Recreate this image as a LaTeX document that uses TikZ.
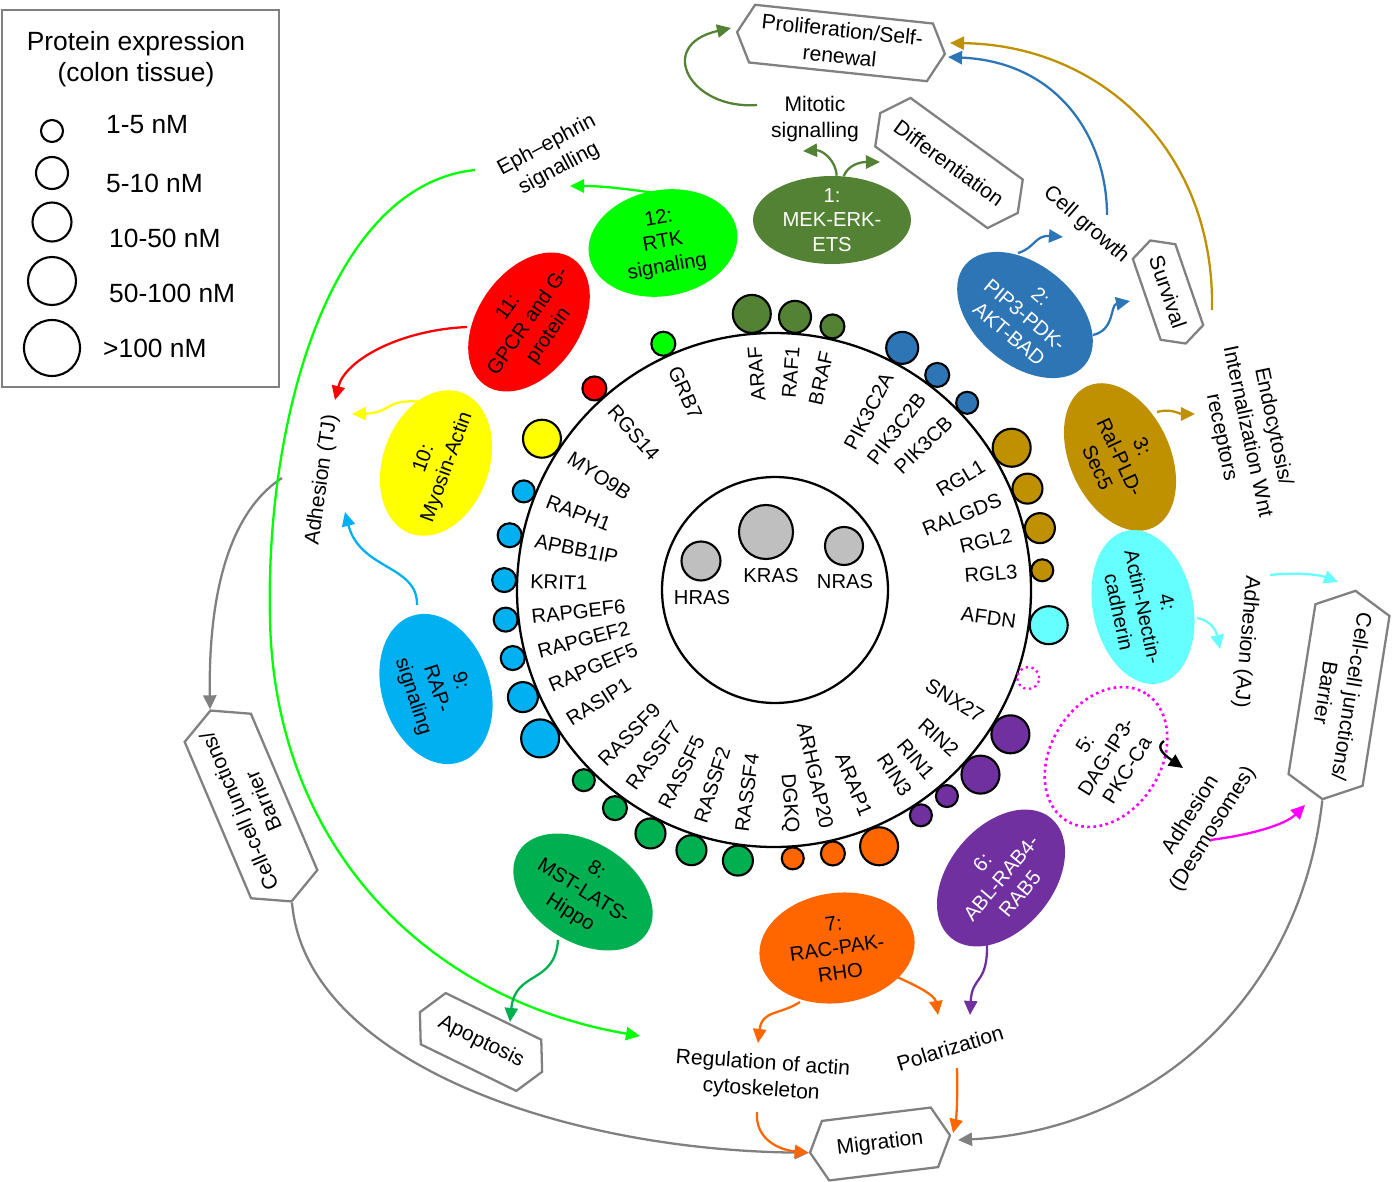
\documentclass[tikz,border=0pt]{standalone}
\usepackage{fontspec}
\setmainfont{Liberation Sans}
\usetikzlibrary{shapes.geometric,shapes.symbols,arrows.meta}
\definecolor{mekgreen}{HTML}{548235}
\definecolor{pipblue}{HTML}{2E75B6}
\definecolor{ralgold}{HTML}{BF9000}
\definecolor{adhcyan}{HTML}{66FFFF}
\definecolor{dagmag}{HTML}{FF00FF}
\definecolor{ablpurple}{HTML}{7030A0}
\definecolor{racorange}{HTML}{FF6600}
\definecolor{mstgreen}{HTML}{00B050}
\definecolor{rapblue}{HTML}{00B0F0}
\definecolor{myoyellow}{HTML}{FFFF00}
\definecolor{gpcrred}{HTML}{FF0000}
\definecolor{rtkgreen}{HTML}{00FF00}
\definecolor{rasgray}{HTML}{BFBFBF}
\definecolor{boxgray}{HTML}{808080}

\begin{document}
\begin{tikzpicture}[x=0.02cm,y=-0.02cm,
    every node/.style={font=\fontsize{12}{15}\selectfont},
    pathway/.style={ellipse,align=center,inner sep=-0.3cm,minimum width=3.12cm,minimum height=2cm,font=\fontsize{11.5}{14}\selectfont},
    outcome/.style={signal,signal to=east and west,signal pointer angle=125,draw=boxgray,line width=1.3pt,fill=white,align=center,inner sep=0pt},
    gene/.style={inner sep=1pt,font=\fontsize{11.5}{13}\selectfont},
    genedot/.style={draw,line width=1.2pt},
    conn/.style={line width=1.3pt,-{Triangle[length=8pt,width=7.5pt]}}]

    \useasboundingbox (0,0) rectangle (1397,1182);

    \draw[boxgray,line width=1pt] (2,10) rectangle (279,387);
    \node[font=\fontsize{15}{18}\selectfont,align=center] (legtitle) at (136,59) {Protein expression\\(colon tissue)};
    \foreach \y/\r/\ty/\tx/\t in {131/11/125/100/1-5 nM, 173/16/183/100/5-10 nM, 222/19.5/238/103/10-50 nM, 281/24/293/103/50-100 nM, 348/28/348/97/>100 nM}{
      \draw[line width=1.2pt] (52,\y) circle[radius=\r];
      \node[anchor=west,font=\fontsize{15}{18}\selectfont] (leg\ty) at (\tx,\ty) {\t};
    }

    \draw[line width=1.3pt] (774,590) circle[radius=257];
    \draw[line width=1.3pt] (775,590) circle[radius=113];
    \draw[genedot,fill=rasgray] (701,561) circle[radius=19.5];
    \draw[genedot,fill=rasgray] (766,532) circle[radius=27];
    \draw[genedot,fill=rasgray] (844,546) circle[radius=19];
    \node[gene] (hras) at (702,598) {HRAS};
    \node[gene] (kras) at (771,576) {KRAS};
    \node[gene] (nras) at (845,582) {NRAS};

    \begin{scope}[shift={(774,590)},y=0.02cm]
      \foreach \a/\r/\c/\n in {94.6/19/mekgreen/ARAF, 85.6/16/mekgreen/RAF1, 77.5/12/mekgreen/BRAF,
          62.1/16/pipblue/PIK3C2A, 52.8/12/pipblue/PIK3C2B, 44.1/11/pipblue/PIK3CB,
          30.9/19/ralgold/RGL1, 21.8/15/ralgold/RALGDS, 13.1/15/ralgold/RGL2, 4.2/11/ralgold/RGL3,
          -7.3/19/adhcyan/AFDN, -31.4/19/ablpurple/SNX27, -41.8/19/ablpurple/RIN2,
          -50/11/ablpurple/RIN1, -56.9/11/ablpurple/RIN3, -67.7/19/racorange/ARAP1,
          -77.4/12/racorange/ARHGAP20, -86/11/racorange/DGKQ}{
        \pgfmathsetmacro\d{258+\r}
        \draw[genedot,fill=\c] (\a:\d) circle[radius=\r];
        \node[gene,anchor=east,rotate=\a] (g\n) at (\a:246) {\n};
      }
      \foreach \a/\r/\c/\n in {262.4/15/mstgreen/RASSF4, 252.4/15/mstgreen/RASSF2, 243.1/15/mstgreen/RASSF5,
          233.9/12/mstgreen/RASSF7, 225/11/mstgreen/RASSF9, 212.4/19/rapblue/RASIP1,
          203.1/15/rapblue/RAPGEF5, 194.6/12/rapblue/RAPGEF2, 186.3/12/rapblue/RAPGEF6,
          177.9/12/rapblue/KRIT1, 168.3/12/rapblue/APBB1IP, 158.5/11/rapblue/RAPH1,
          146.9/19/myoyellow/MYO9B, 131.7/12/gpcrred/RGS14, 114.2/12/rtkgreen/GRB7}{
        \pgfmathsetmacro\d{258+\r}
        \draw[genedot,fill=\c] (\a:\d) circle[radius=\r];
        \node[gene,anchor=west,rotate=\a-180] (g\n) at (\a:246) {\n};
      }
      \draw[dagmag,line width=1.3pt,dotted] (-19.1:269) circle[radius=11];
    \end{scope}

    \node[pathway,fill=mekgreen,text=white,minimum width=3.16cm,minimum height=1.76cm] (p1) at (832,220) {1:\\MEK-ERK-\\ETS};
    \node[pathway,fill=pipblue,text=white,rotate=-40] (p2) at (1025,315) {2:\\PIP3-PDK-\\AKT-BAD};
    \node[pathway,fill=ralgold,rotate=-65] (p3) at (1120,457) {3:\\Ral-PLD-\\Sec5};
    \node[pathway,fill=adhcyan,rotate=-78] (p4) at (1143,607) {4:\\Actin-Nectin-\\cadherin};
    \node[pathway,draw=dagmag,dotted,line width=1.5pt,fill=white,rotate=58,minimum width=3cm,minimum height=2.2cm] (p5) at (1106,757) {5:\\DAG-IP3-\\PKC-Ca};
    \node[pathway,fill=ablpurple,text=white,rotate=50,minimum height=2.08cm] (p6) at (1001,878) {6:\\ABL-RAB4-\\RAB5};
    \node[pathway,fill=racorange,rotate=8,minimum height=2.2cm] (p7) at (837,948) {7:\\RAC-PAK-\\RHO};
    \node[pathway,fill=mstgreen,rotate=-32,minimum width=3.04cm] (p8) at (583,892) {8:\\MST-LATS-\\Hippo};
    \node[pathway,fill=rapblue,rotate=-72,minimum width=3.08cm,minimum height=2.16cm] (p9) at (436,689) {9:\\RAP-\\signaling};
    \node[pathway,fill=myoyellow,rotate=70,minimum width=3cm,minimum height=2.12cm] (p10) at (436,463) {10:\\Myosin-Actin};
    \node[pathway,fill=gpcrred,rotate=55,minimum width=3.08cm,minimum height=2.04cm] (p11) at (529,322) {11:\\GPCR and G-\\protein};
    \node[pathway,fill=rtkgreen,rotate=10,minimum width=3cm,minimum height=2.12cm] (p12) at (663,243) {12:\\RTK\\signaling};

    \node[outcome,rotate=-6,minimum width=4.18cm,minimum height=1.16cm] (prolif) at (841,43) {Proliferation/Self-\\renewal};
    \node[outcome,rotate=-36,minimum width=3.4cm,minimum height=1.2cm] (diff) at (949,163) {Differentiation};
    \node[outcome,rotate=-71,minimum width=2.18cm,minimum height=0.9cm] (surv) at (1168,292) {Survival};
    \node[outcome,rotate=-99,minimum width=4.22cm,minimum height=1.5cm] (cellR) at (1339,695) {Cell-cell junctions/\\Barrier};
    \node[outcome,rotate=113,minimum width=4.1cm,minimum height=1.44cm] (cellL) at (251,806) {Cell-cell junctions/\\Barrier};
    \node[outcome,rotate=-26,minimum width=2.72cm,minimum height=1.14cm] (apop) at (481,1042) {Apoptosis};
    \node[outcome,rotate=7,minimum width=2.82cm,minimum height=1.2cm] (migr) at (880,1144) {Migration};

    \node[align=center] (mitotic) at (815,119) {Mitotic\\signalling};
    \node[align=center,rotate=28] (eph) at (553,157) {Eph--ephrin\\signalling};
    \node[rotate=-41] (growth) at (1086,225) {Cell growth};
    \node[align=center,rotate=-78] (endo) at (1247,432) {Endocytosis/\\Internalization Wnt\\receptors};
    \node[rotate=-95] (adhAJ) at (1246,642) {Adhesion (AJ)};
    \node[align=center,rotate=58] (adhDes) at (1202,822) {Adhesion\\(Desmosomes)};
    \node[rotate=82] (adhTJ) at (322,480) {Adhesion (TJ)};
    \node[align=center,rotate=-4] (regul) at (762,1077) {Regulation of actin\\cytoskeleton};
    \node[rotate=17] (polar) at (950,1048) {Polarization};

    \coordinate (mitS) at (757,105);
    \coordinate (prolifW) at (731,28);
    \coordinate (mitIn) at (803,151);
    \coordinate (diffIn) at (880,162);
    \coordinate (p2top) at (1018,253);
    \coordinate (growthIn) at (1063,237);
    \coordinate (p2right) at (1093,335);
    \coordinate (survIn) at (1130,301);
    \coordinate (growthS) at (1107,215);
    \coordinate (prolifE1) at (948,57);
    \coordinate (goldS) at (1212,310);
    \coordinate (prolifE2) at (950,43);
    \coordinate (p3right) at (1157,412);
    \coordinate (endoIn) at (1195,414);
    \coordinate (ajS) at (1270,575);
    \coordinate (cellRIn) at (1338,582);
    \coordinate (p4right) at (1197,618);
    \coordinate (ajIn) at (1220,649);
    \coordinate (p5right) at (1164,741);
    \coordinate (p5tip) at (1183,768);
    \coordinate (desS) at (1210,840);
    \coordinate (cellRIn2) at (1305,805);
    \coordinate (migrE) at (958,1140);
    \coordinate (tjS) at (282,478);
    \coordinate (ephS) at (475,170);
    \coordinate (regulIn) at (640,1036);
    \coordinate (p12left) at (655,193);
    \coordinate (ephIn) at (570,186);
    \coordinate (p11left) at (467,327);
    \coordinate (tjIn1) at (335,400);
    \coordinate (p10top) at (422,402);
    \coordinate (tjIn2) at (352,414);
    \coordinate (p9top) at (417,605);
    \coordinate (tjIn3) at (345,512);
    \coordinate (p8bot) at (558,940);
    \coordinate (apopIn) at (510,1022);
    \coordinate (p7left) at (800,1002);
    \coordinate (regulTop) at (758,1043);
    \coordinate (p7right) at (897,977);
    \coordinate (polarTop) at (938,1015);
    \coordinate (regulBot) at (757,1112);
    \coordinate (polarBot) at (957,1068);
    \coordinate (migrNE) at (953,1133);
    \coordinate (p6bot) at (987,943);
    \coordinate (polarIn) at (970,1015);

    \draw[conn,mekgreen] (mitS) .. controls (690,110) and (655,45) .. (prolifW);
    \draw[conn,mekgreen] (p1.84) .. controls (836,160) and (822,150) .. (mitIn);
    \draw[conn,mekgreen] (p1.75) .. controls (848,165) and (860,162) .. (diffIn);
    \draw[conn,pipblue] (p2top) .. controls (1035,248) and (1035,235) .. (growthIn);
    \draw[conn,pipblue] (p2right) .. controls (1115,330) and (1110,305) .. (survIn);
    \draw[conn,pipblue] (growthS) .. controls (1107,140) and (1060,62) .. (prolifE1);
    \draw[conn,ralgold] (goldS) .. controls (1215,150) and (1100,45) .. (prolifE2);
    \draw[conn,ralgold] (p3right) .. controls (1170,408) and (1180,414) .. (endoIn);
    \draw[conn,adhcyan] (ajS) .. controls (1300,572) and (1320,575) .. (cellRIn);
    \draw[conn,adhcyan] (p4right) .. controls (1210,620) and (1216,630) .. (ajIn);
    \draw[conn,black] (p5right) .. controls (1157,746) and (1160,752) .. (p5tip);
    \draw[conn,dagmag] (desS) .. controls (1250,835) and (1285,825) .. (cellRIn2);
    \draw[conn,boxgray] (cellR.east) .. controls (1300,1000) and (1150,1130) .. (migrE);
    \draw[conn,boxgray] (cellL.west) .. controls (305,1060) and (560,1150) .. (migr.west);
    \draw[conn,boxgray] (tjS) .. controls (240,505) and (208,570) .. (cellL.east);
    \draw[conn,rtkgreen] (ephS) .. controls (330,185) and (265,420) .. (270,620) .. controls (275,850) and (430,1000) .. (regulIn);
    \draw[conn,rtkgreen] (p12left) .. controls (620,188) and (600,186) .. (ephIn);
    \draw[conn,gpcrred] (p11left) .. controls (400,330) and (345,360) .. (tjIn1);
    \draw[conn,myoyellow] (p10top) .. controls (385,398) and (392,413) .. (tjIn2);
    \draw[conn,rapblue] (p9top) .. controls (418,565) and (360,570) .. (tjIn3);
    \draw[conn,mstgreen] (p8bot) .. controls (555,985) and (515,970) .. (apopIn);
    \draw[conn,racorange] (p7left) .. controls (780,1015) and (762,1010) .. (regulTop);
    \draw[conn,racorange] (p7right) .. controls (915,985) and (935,995) .. (polarTop);
    \draw[conn,racorange] (regulBot) .. controls (755,1140) and (780,1150) .. (migr.west);
    \draw[conn,racorange] (polarBot) .. controls (958,1100) and (956,1120) .. (migrNE);
    \draw[conn,ablpurple] (p6bot) .. controls (988,985) and (972,975) .. (polarIn);
\end{tikzpicture}
\end{document}
